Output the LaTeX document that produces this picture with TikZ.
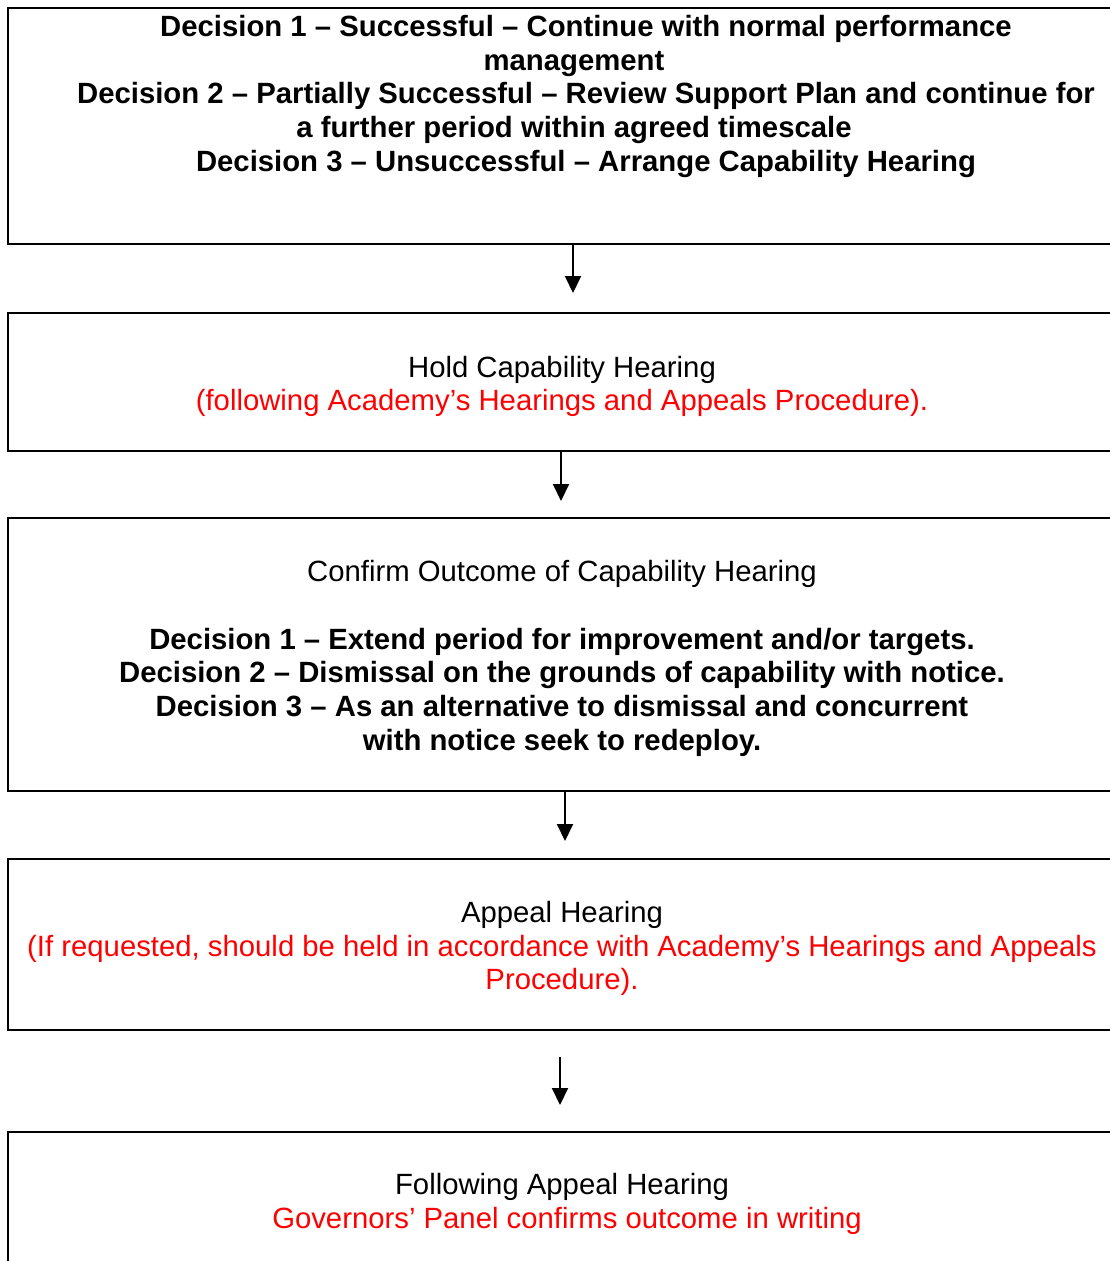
\documentclass[tikz,border=0pt]{standalone}
\usepackage{fontspec}
\setmainfont{Liberation Sans}
\usetikzlibrary{arrows.meta}
\newcommand\ls{\rule[-0.217em]{0pt}{1.15em}}
\begin{document}
\begin{tikzpicture}[x=1pt,y=-1pt,
  boxst/.style={draw=black,line width=2.2pt,inner sep=0pt,rectangle},
  txt/.style={inner sep=0pt,align=center,font=\fontsize{29.3pt}{33.75pt}\selectfont},
  bld/.style={txt,font=\fontsize{29.3pt}{33.75pt}\selectfont\bfseries},
  arr/.style={line width=2pt,-{Triangle[length=17pt,width=16pt]}}]
\useasboundingbox (0,0) rectangle (1110,1261);
\begin{scope}
\clip (0,0) rectangle (1110,1261);
\node[boxst,minimum width=1108pt,minimum height=236pt] (b1) at (562,126) {};
\node[boxst,minimum width=1108pt,minimum height=138pt] (b2) at (562,382) {};
\node[boxst,minimum width=1108pt,minimum height=273pt] (b3) at (562,654.5) {};
\node[boxst,minimum width=1108pt,minimum height=171pt] (b4) at (562,944.5) {};
\node[boxst,minimum width=1108pt,minimum height=143pt] (b5) at (562,1203.5) {};
\end{scope}

\node[bld] (t1) at (574,93.5) {\ls\hspace*{24pt}Decision 1 – Successful – Continue with normal performance\\
\ls management\\
\ls\hspace*{24pt}Decision 2 – Partially Successful – Review Support Plan and continue for\\
\ls a further period within agreed timescale\\
\ls\hspace*{24pt}Decision 3 – Unsuccessful – Arrange Capability Hearing};

\node[txt] (t2) at (562,383.5) {\ls Hold Capability Hearing\\
\ls\color{red}(following Academy’s Hearings and Appeals Procedure).};

\node[txt] (t3) at (562,655.5) {\ls Confirm Outcome of Capability Hearing\\
\ls\\
\ls\bfseries Decision 1 – Extend period for improvement and/or targets.\\
\ls\bfseries Decision 2 – Dismissal on the grounds of capability with notice.\\
\ls\bfseries Decision 3 – As an alternative to dismissal and concurrent\\
\ls\bfseries with notice seek to redeploy.};

\node[txt] (t4) at (562,945.5) {\ls Appeal Hearing\\
\ls\color{red}(If requested, should be held in accordance with Academy’s Hearings and Appeals\\
\ls\color{red}Procedure).};

\node[txt] (t5) at (562,1201) {\ls Following Appeal Hearing\\
\ls\color{red}\hspace*{10pt}Governors’ Panel confirms outcome in writing};

\coordinate (a1s) at (573,244);
\coordinate (a1e) at (573,293);
\coordinate (a2s) at (561,452);
\coordinate (a2e) at (561,501);
\coordinate (a3s) at (565,792);
\coordinate (a3e) at (565,841);
\coordinate (a4s) at (560,1057);
\coordinate (a4e) at (560,1105);
\draw[arr] (a1s) -- (a1e);
\draw[arr] (a2s) -- (a2e);
\draw[arr] (a3s) -- (a3e);
\draw[arr] (a4s) -- (a4e);
\end{tikzpicture}
\end{document}
